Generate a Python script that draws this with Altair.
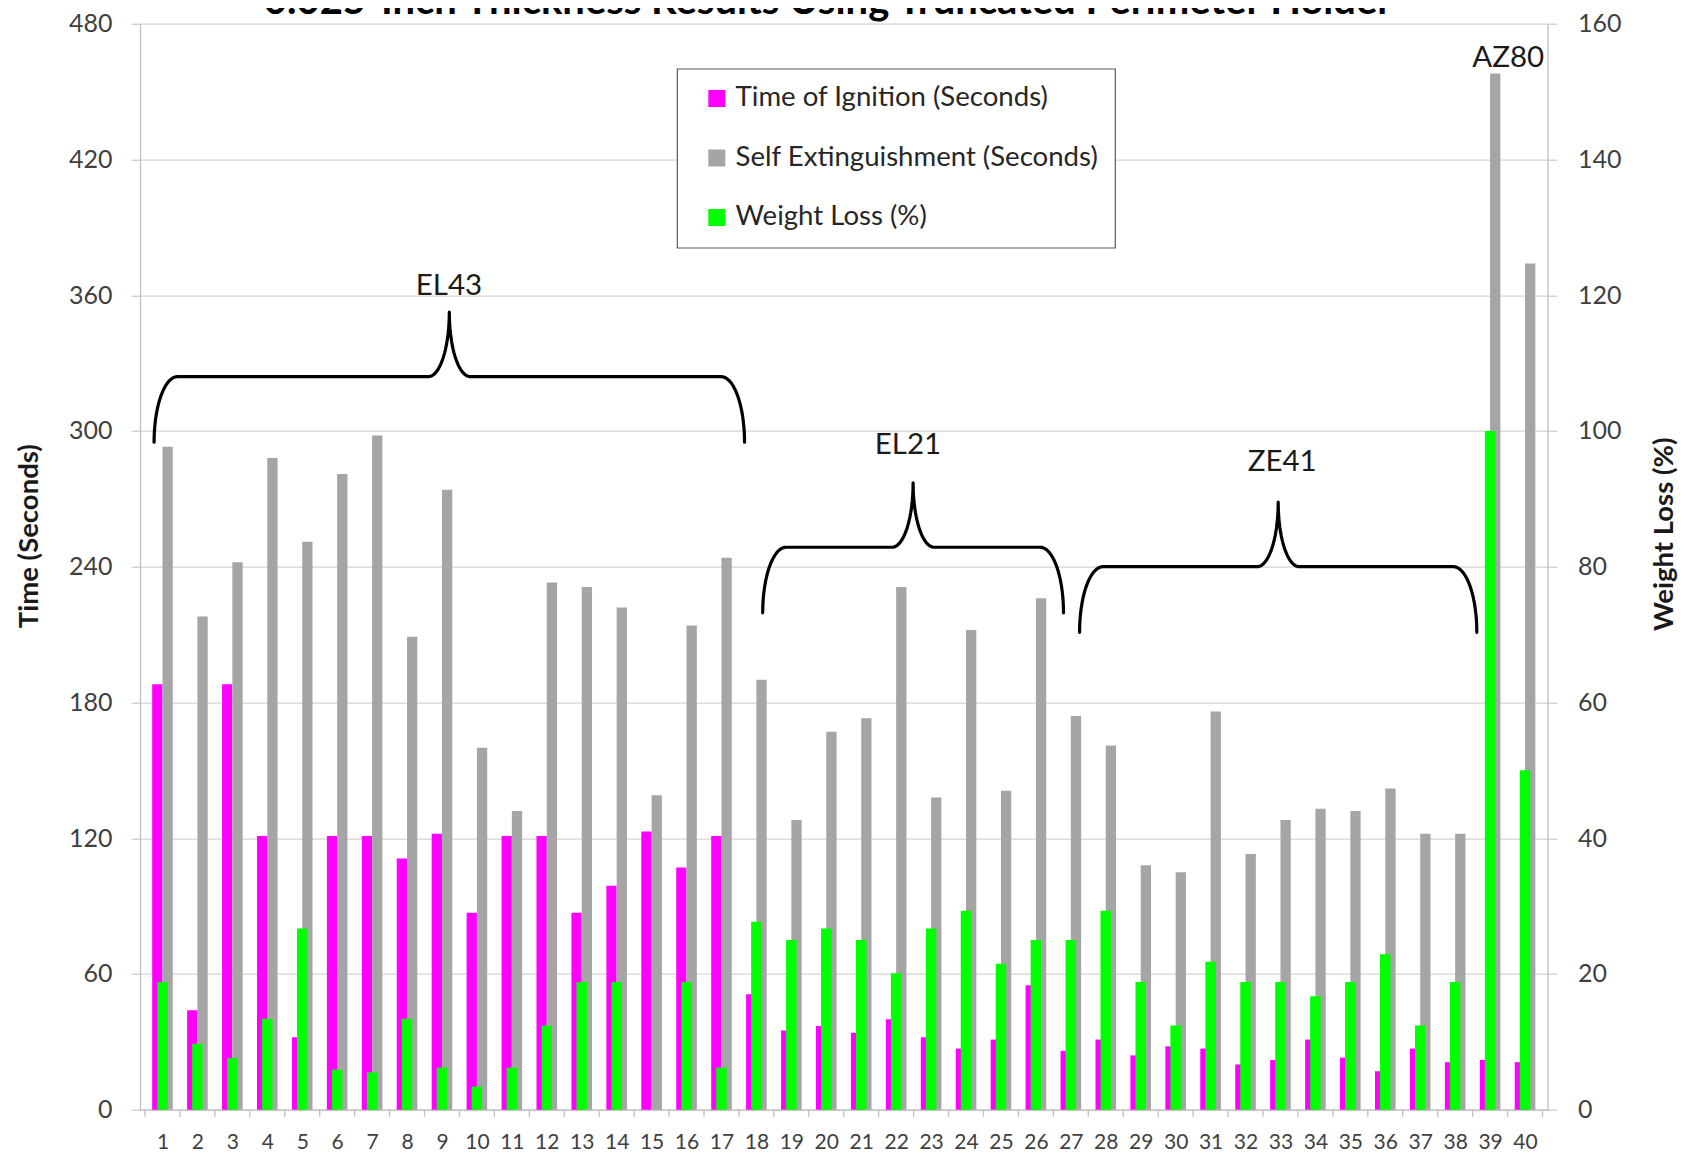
import altair as alt
import numpy as np
import pandas as pd

# ---------------- data ----------------
categories = list(range(1, 41))
ignition = [188, 44, 188, 121, 32, 121, 121, 111, 122, 87,
            121, 121, 87, 99, 123, 107, 121, 51, 35, 37,
            34, 40, 32, 27, 31, 55, 26, 31, 24, 28,
            27, 20, 22, 31, 23, 17, 27, 21, 22, 21]
extinguish = [293, 218, 242, 288, 251, 281, 298, 209, 274, 160,
              132, 233, 231, 222, 139, 214, 244, 190, 128, 167,
              173, 231, 138, 212, 141, 226, 174, 161, 108, 105,
              176, 113, 128, 133, 132, 142, 122, 122, 458, 374]
weight_loss = [18.8, 9.7, 7.6, 13.4, 26.7, 5.9, 5.5, 13.4, 6.2, 3.4,
               6.2, 12.4, 18.8, 18.8, 0, 18.8, 6.2, 27.7, 25, 26.7,
               25, 20.1, 26.7, 29.3, 21.5, 25, 25, 29.3, 18.8, 12.4,
               21.8, 18.8, 18.8, 16.7, 18.8, 22.9, 12.4, 18.8, 100, 50]

left_ticks = [0, 60, 120, 180, 240, 300, 360, 420, 480]
right_ticks = [0, 20, 40, 60, 80, 100, 120, 140, 160]

series_names = ["Time of Ignition (Seconds)", "Self Extinguishment (Seconds)", "Weight Loss (%)"]
series_colors = ["#FF00FF", "#A5A5A5", "#00FF00"]

# alloy group annotations (category span and brace tip level in seconds)
brace_names = ["EL43", "EL21", "ZE41"]
brace_start = [0.76, 18.18, 27.25]
brace_end = [17.66, 26.79, 38.62]
brace_tip = [295, 219.6, 211]
label_names = ["EL43", "EL21", "ZE41", "AZ80"]
label_x = [9.2, 22.34, 33.05, 39.52]
label_y = [364, 294, 286.3, 465]

title_text = "0.025-Inch Thickness Results Using Truncated Perimeter Holder"

# ---------------- helpers ----------------
FONT = "Lato"
W, H = 1407.5, 1086
B_END, B_CUSP = 29.0, 28.5      # brace heights (seconds)
A_END, A_CUSP = 0.67, 0.6       # brace curl widths (categories)


def brace_points(name, x0, x1, y_end, n=24):
    yh = y_end + B_END
    top = yh + B_CUSP
    xm = (x0 + x1) / 2
    pts = []
    for t in np.linspace(np.pi, np.pi / 2, n):
        pts.append((x0 + A_END + A_END * np.cos(t), y_end + B_END * np.sin(t)))
    for t in np.linspace(-np.pi / 2, 0, n):
        pts.append((xm - A_CUSP + A_CUSP * np.cos(t), top + B_CUSP * np.sin(t)))
    for t in np.linspace(np.pi, 1.5 * np.pi, n):
        pts.append((xm + A_CUSP + A_CUSP * np.cos(t), top + B_CUSP * np.sin(t)))
    for t in np.linspace(np.pi / 2, 0, n):
        pts.append((x1 - A_END + A_END * np.cos(t), y_end + B_END * np.sin(t)))
    return [{"grp": name, "idx": i, "bx": float(px), "by": float(py)} for i, (px, py) in enumerate(pts)]


brace_rows = []
for nm, a, b, tip in zip(brace_names, brace_start, brace_end, brace_tip):
    brace_rows += brace_points(nm, a, b, tip)
brace_df = pd.DataFrame(brace_rows)

df = pd.DataFrame({"cat": categories, "ignition": ignition,
                   "extinguish": extinguish, "weight": weight_loss})
labels_df = pd.DataFrame({"name": label_names, "lx": label_x, "ly": label_y})
bounds_df = pd.DataFrame({"b": [c - 0.5 for c in categories] + [categories[-1] + 0.5]})
title_df = pd.DataFrame({"t": [title_text]})

# ---------------- scales / axes ----------------
x_scale = alt.Scale(domain=[0.5, 40.5], nice=False, zero=False)
left_scale = alt.Scale(domain=[0, 480], nice=False)
right_scale = alt.Scale(domain=[0, 160], nice=False)

x_axis = alt.Axis(values=categories, format="d", title=None, labelFontSize=21,
                  labelColor="#404040", labelFont=FONT, labelPadding=21.5,
                  ticks=False, domainColor="#BFBFBF", domainWidth=1.3,
                  grid=False, labelFlush=False, labelOverlap=False, labelAngle=0)

left_axis = alt.Axis(values=left_ticks, format="d", title="Time (Seconds)",
                     labelFontSize=25, labelColor="#404040", labelFont=FONT,
                     labelPadding=19, tickSize=9, tickColor="#BFBFBF",
                     domainColor="#BFBFBF", domainWidth=1.3,
                     grid=True, gridColor="#D4D4D4", gridWidth=1.3,
                     titleFont=FONT, titleFontSize=27.5, titleFontWeight="bold",
                     titleColor="#1a1a1a", titleAngle=270, titleX=-111, titleY=512,
                     titleAlign="center", titleBaseline="middle")

right_axis = alt.Axis(values=right_ticks, format="d", title="Weight Loss (%)",
                      orient="right", labelFontSize=25, labelColor="#404040",
                      labelFont=FONT, labelPadding=21, tickSize=9,
                      tickColor="#BFBFBF", domainColor="#BFBFBF", domainWidth=1.3,
                      grid=False, titleFont=FONT, titleFontSize=27.5,
                      titleFontWeight="bold", titleColor="#1a1a1a", titleAngle=270,
                      titleX=117, titleY=510, titleAlign="center",
                      titleBaseline="middle")

color_scale = alt.Scale(domain=series_names, range=series_colors)
legend = alt.Legend(title=None, orient="none", legendX=537, legendY=45,
                    direction="vertical", symbolType="square", symbolSize=289,
                    symbolStrokeWidth=0, labelFontSize=27.6, labelFont=FONT,
                    labelColor="#262626", labelOffset=5, symbolOffset=10,
                    rowPadding=30.5, padding=16, strokeColor="#595959",
                    fillColor="#FFFFFF", labelLimit=700)

X = alt.X("cat:Q", scale=x_scale, axis=x_axis)

magenta = alt.Chart(df).transform_calculate(series=f"'{series_names[0]}'").mark_bar(
    width=10.3, xOffset=-5.15, orient="vertical").encode(
    x=X,
    y=alt.Y("ignition:Q", scale=left_scale, axis=left_axis),
    color=alt.Color("series:N", scale=color_scale, legend=legend))

gray = alt.Chart(df).transform_calculate(series=f"'{series_names[1]}'").mark_bar(
    width=10.3, xOffset=5.15, orient="vertical").encode(
    x=X,
    y=alt.Y("extinguish:Q", scale=left_scale, axis=None),
    color=alt.Color("series:N", scale=color_scale, legend=legend))

green = alt.Chart(df).transform_calculate(series=f"'{series_names[2]}'").mark_bar(
    width=10.5, orient="vertical").encode(
    x=X,
    y=alt.Y("weight:Q", scale=right_scale, axis=right_axis),
    color=alt.Color("series:N", scale=color_scale, legend=legend))

ticks = alt.Chart(bounds_df).mark_rule(color="#BFBFBF", strokeWidth=1.3).encode(
    x=alt.X("b:Q", scale=x_scale, axis=x_axis),
    y=alt.value(H), y2=alt.value(H + 7))

braces = alt.Chart(brace_df).mark_line(color="#000000", strokeWidth=3.2,
                                       strokeCap="round", strokeJoin="round").encode(
    x=alt.X("bx:Q", scale=x_scale, axis=x_axis),
    y=alt.Y("by:Q", scale=left_scale, axis=None),
    detail="grp:N", order="idx:Q")

labels = alt.Chart(labels_df).mark_text(font=FONT, fontSize=29.5, color="#1a1a1a",
                                        align="center", baseline="middle").encode(
    x=alt.X("lx:Q", scale=x_scale, axis=x_axis),
    y=alt.Y("ly:Q", scale=left_scale, axis=None),
    text="name:N")

title = alt.Chart(title_df).mark_text(font=FONT, fontSize=40, fontWeight="bold",
                                      color="#000000", align="center",
                                      baseline="alphabetic").encode(
    x=alt.value(688), y=alt.value(-9.7), text="t:N")

chart = alt.layer(magenta, gray, green, ticks, braces, labels, title).resolve_scale(
    y="independent"
).properties(
    width=W, height=H,
    padding={"left": 132, "top": 15.7, "right": 135, "bottom": 44},
    autosize=alt.AutoSizeParams(type="none"),
).configure_view(stroke=None).configure_legend(strokeWidth=1.2)

chart.save("out.html", embed_options={"renderer": "svg", "actions": False})
